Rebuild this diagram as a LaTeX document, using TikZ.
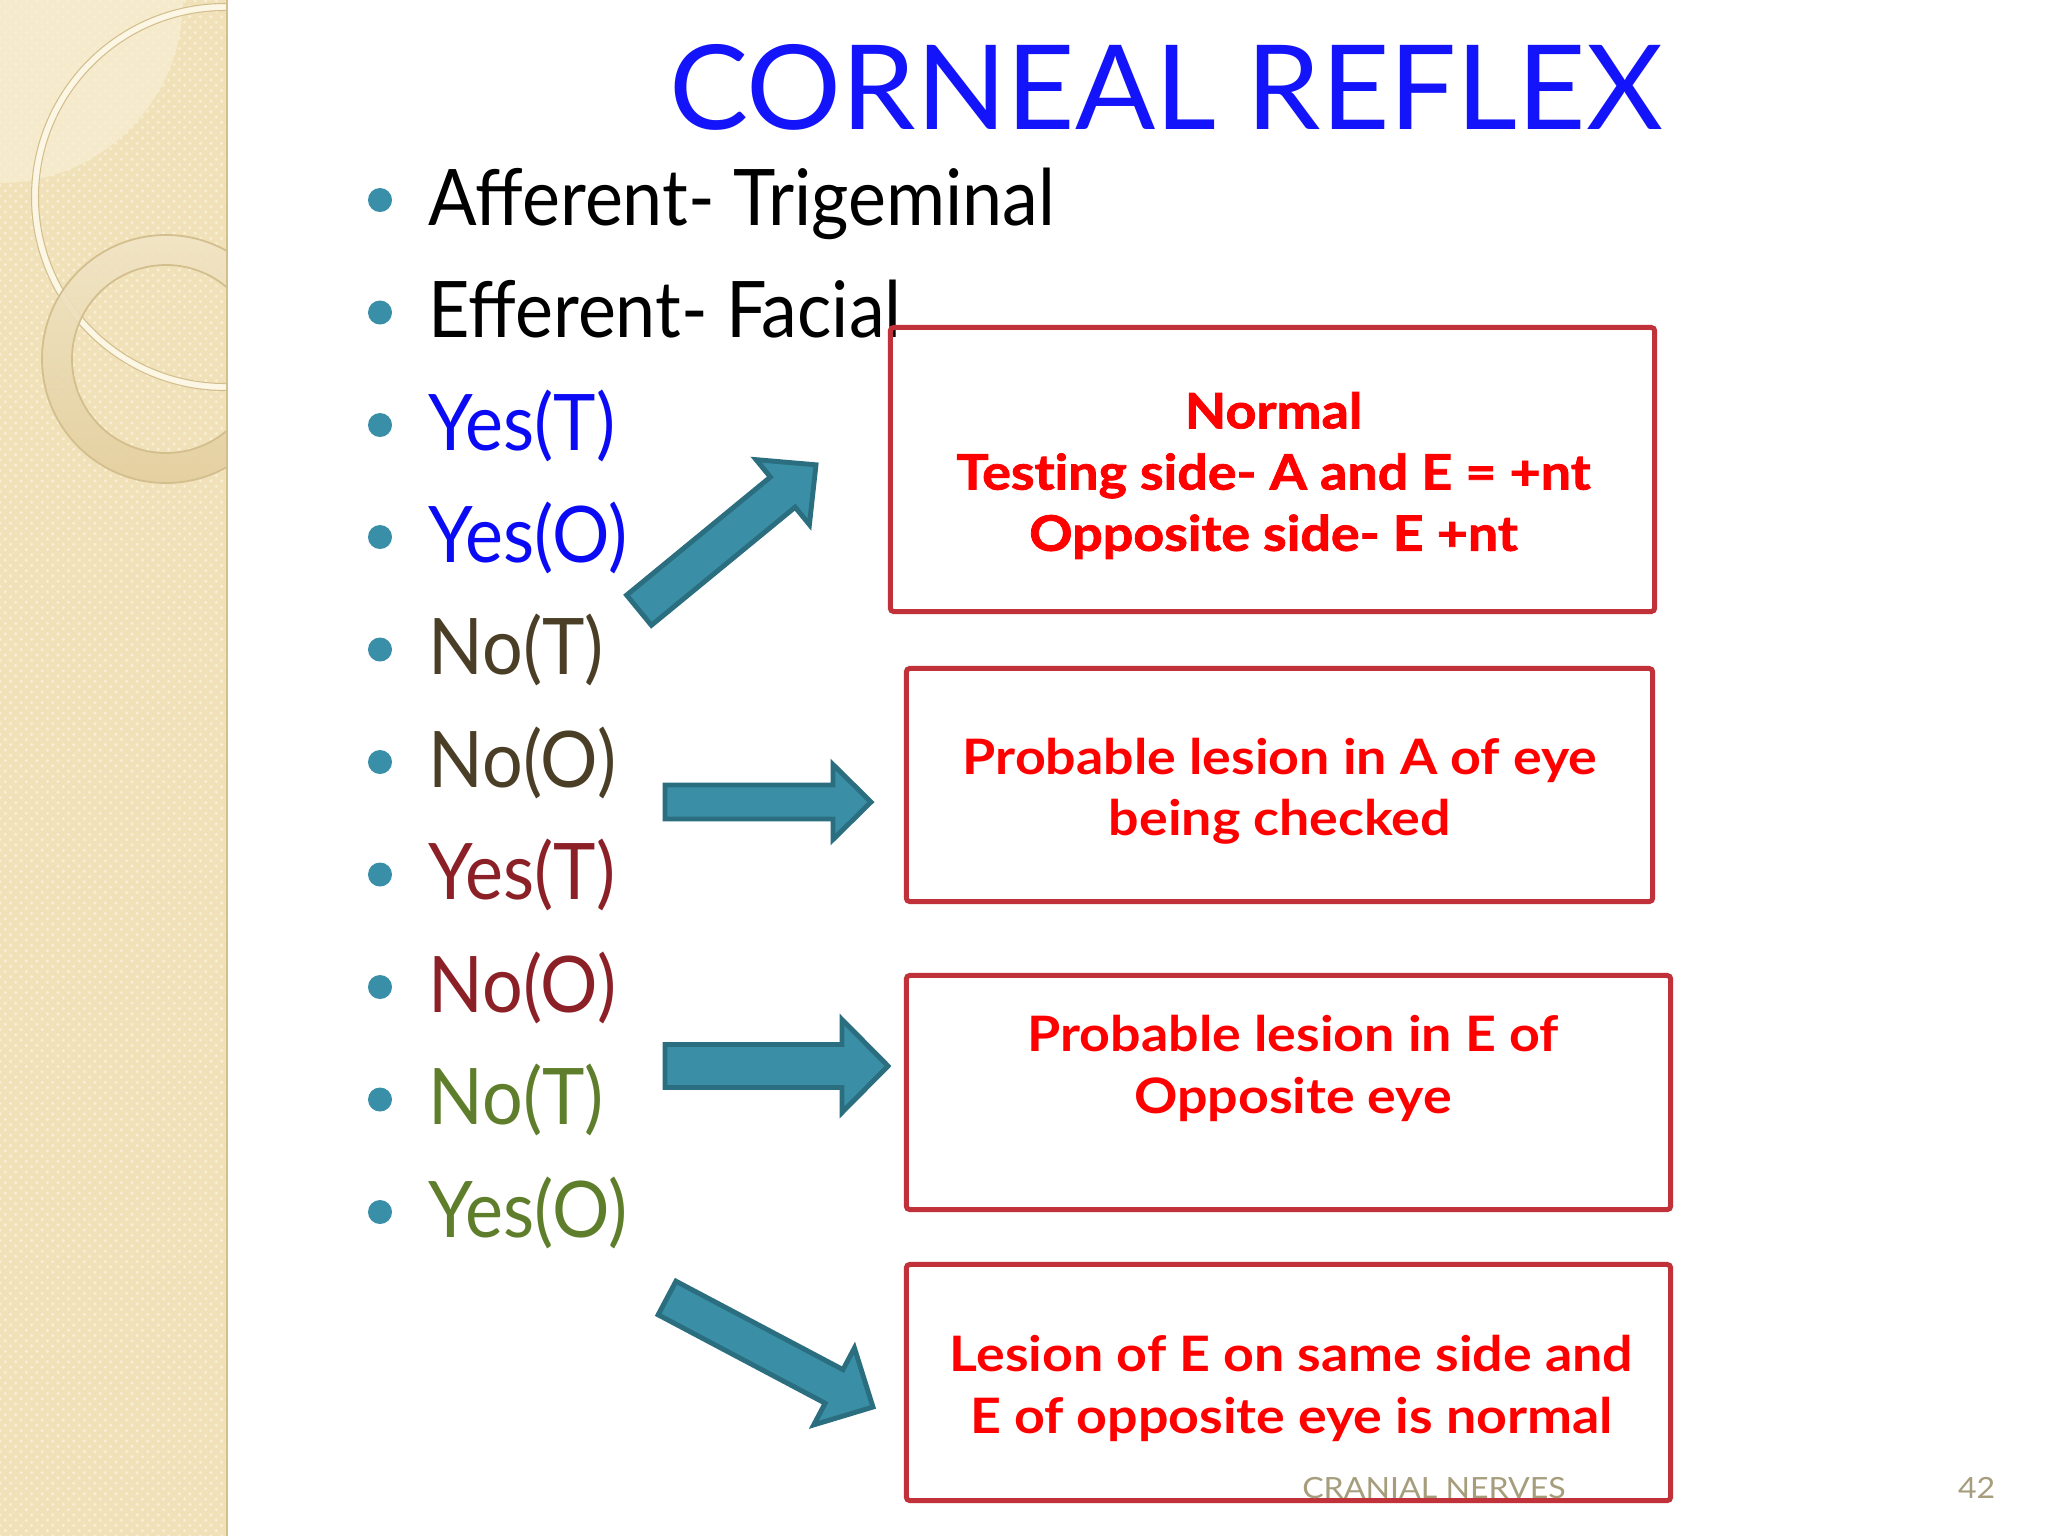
\documentclass[tikz,border=0pt]{standalone}
\usepackage{fontspec}
\setmainfont{Lato}
\newfontfamily\itemfont[FakeStretch=0.92]{Lato}
\newfontfamily\titlefont[FakeStretch=1.01]{Lato}
\newfontfamily\boxfont[FakeStretch=1.1, Ligatures=NoCommon]{Lato}
\newfontfamily\heavyfont[FakeStretch=1.1, Ligatures=NoCommon, BoldFeatures={FakeBold=1.6}]{Lato}
\newfontfamily\footfont[FakeStretch=1.1]{Lato}
\usetikzlibrary{patterns}

\definecolor{panelbg}{HTML}{F1E1B8}
\definecolor{panellight}{HTML}{F8EED4}
\definecolor{ringcream}{HTML}{FCF6E4}
\definecolor{ringtop}{HTML}{F1E5C6}
\definecolor{ringbottom}{HTML}{E3CF9E}
\definecolor{ringedge}{HTML}{D3BE8E}
\definecolor{titleblue}{HTML}{1414FA}
\definecolor{dotteal}{HTML}{3A8FA8}
\definecolor{arrowfill}{HTML}{3A8FA6}
\definecolor{arrowedge}{HTML}{2A6E80}
\definecolor{boxred}{HTML}{C1313A}
\definecolor{itemblue}{HTML}{0A0AF5}
\definecolor{itembrown}{HTML}{4A3E26}
\definecolor{itemred}{HTML}{8C2027}
\definecolor{itemgreen}{HTML}{5F7E2B}
\definecolor{footgrey}{HTML}{A69D7C}

\tikzset{
  dot/.style={circle, fill=dotteal, inner sep=0pt, minimum size=0.24cm},
  item/.style={anchor=base west, inner sep=0pt, font=\itemfont\fontsize{22.2}{26}\selectfont},
  box/.style={draw=boxred, line width=1.42pt, rounded corners=1pt, inner sep=0pt},
  boxtext/.style={text=red, align=center, inner sep=0pt, font=\boxfont\bfseries\fontsize{13.9}{17.4}\selectfont},
  arrowbody/.style={fill=arrowfill, draw=arrowedge, line width=1.4pt, line join=miter},
  foot/.style={anchor=base, inner sep=0pt, text=footgrey, font=\footfont\fontsize{8.3}{10}\selectfont}
}

\def\blockarrow(#1)[#2](#3:#4:#5:#6){%
  \begin{scope}[shift={(#1)},rotate=#2]
    \draw[arrowbody] ({-#3/2},{-#4/2}) -- ({#3/2-#6},{-#4/2}) -- ({#3/2-#6},{-#5/2}) -- ({#3/2},0)
      -- ({#3/2-#6},{#5/2}) -- ({#3/2-#6},{#4/2}) -- ({-#3/2},{#4/2}) -- cycle;
  \end{scope}}

\begin{document}
\begin{tikzpicture}[x=0.01cm, y=-0.01cm]
	\useasboundingbox (0,0) rectangle (2048,1536);
	\fill[white] (0,0) rectangle (2048,1536);
	
	\fill[panelbg] (0,0) rectangle (227,1536);
	\fill[pattern=crosshatch dots, pattern color=panellight] (0,0) rectangle (227,1536);
	\begin{scope}
		\clip (0,0) rectangle (227,1536);
		\fill[panellight, opacity=0.7] (0,0) circle (183);
		\draw[ringcream, line width=2pt] (225,197) circle (190);
		\draw[ringedge, line width=0.3pt] (225,197) circle (193.5);
		\draw[ringedge, line width=0.3pt] (225,197) circle (186.5);
		\shade[even odd rule, top color=ringtop, bottom color=ringbottom, opacity=0.9] (166,359) circle (124) (166,359) circle (94);
		\draw[ringedge, line width=0.5pt] (166,359) circle (124);
		\draw[ringedge, line width=0.5pt] (166,359) circle (94);
	\end{scope}
	\draw[ringedge, line width=0.6pt] (227,0) -- (227,1536);
	
	\node[anchor=base, inner sep=0pt, text=titleblue, font=\titlefont\fontsize{33.4}{40}\selectfont] (title) at (1166,129) {CORNEAL REFLEX};
	
	\node[dot] (d1) at (380,200) {};
	\node[dot] (d2) at (380,312.5) {};
	\node[dot] (d3) at (380,425) {};
	\node[dot] (d4) at (380,537) {};
	\node[dot] (d5) at (380,649.5) {};
	\node[dot] (d6) at (380,762) {};
	\node[dot] (d7) at (380,874.5) {};
	\node[dot] (d8) at (380,987) {};
	\node[dot] (d9) at (380,1099.5) {};
	\node[dot] (d10) at (380,1212) {};
	
	\node[item, text=black] (afferent) at (428,225) {Afferent- Trigeminal};
	\node[item, text=black] (efferent) at (428,337.5) {Efferent- Facial};
	\node[item, text=itemblue] (yesT1) at (428,450) {Yes(T)};
	\node[item, text=itemblue] (yesO1) at (428,562) {Yes(O)};
	\node[item, text=itembrown] (noT1) at (428,674.5) {No(T)};
	\node[item, text=itembrown] (noO1) at (428,787) {No(O)};
	\node[item, text=itemred] (yesT2) at (428,899.5) {Yes(T)};
	\node[item, text=itemred] (noO2) at (428,1012) {No(O)};
	\node[item, text=itemgreen] (noT2) at (428,1124.5) {No(T)};
	\node[item, text=itemgreen] (yesO2) at (428,1237) {Yes(O)};
	
	\node[box, minimum width=7.64cm, minimum height=2.84cm] (normal) at (1272.5,469.5) {};
	\node[box, minimum width=7.46cm, minimum height=2.33cm] (lesionA) at (1279.5,785) {};
	\node[box, minimum width=7.64cm, minimum height=2.34cm] (lesionEopp) at (1288.5,1092.5) {};
	\node[box, minimum width=7.64cm, minimum height=2.36cm] (lesionEsame) at (1288.5,1382.5) {};
	
	\node[boxtext, font=\heavyfont\bfseries\fontsize{13.9}{17.4}\selectfont] (normaltext) at (1273.5,475.5) {Normal\\Testing side- A and E = +nt\\Opposite side- E +nt};
	\node[boxtext] (lesionAtext) at (1280,791) {Probable lesion in A of eye\\being checked};
	\node[boxtext] (lesionEopptext) at (1293,1068.5) {Probable lesion in E of\\Opposite eye};
	\node[boxtext] (lesionEsametext) at (1291.5,1388.5) {Lesion of E on same side and\\E of opposite eye is normal};
	
	\blockarrow(727.5,537.5)[39.4](229:39:84:43)
	\blockarrow(768,802)[0](206:34:75:38)
	\blockarrow(776.5,1066)[0](223:43:93:46)
	\blockarrow(770,1352.5)[-27.9](233:38:87:44)
	
	\node[foot] (footer) at (1434,1498) {CRANIAL NERVES};
	\node[foot, anchor=base east] (pageno) at (1996,1498) {42};
\end{tikzpicture}
\end{document}
